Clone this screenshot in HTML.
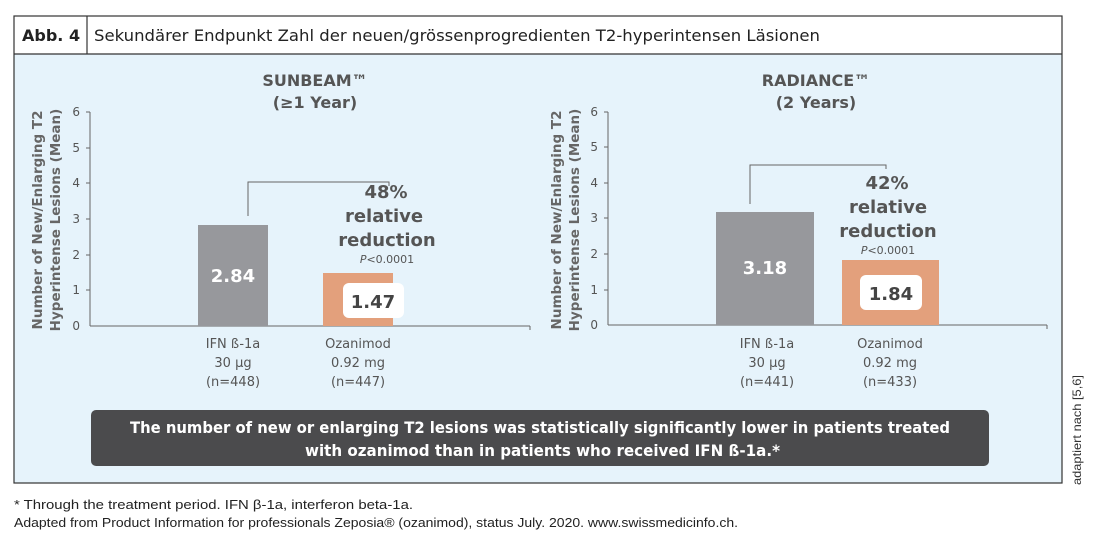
<!DOCTYPE html>
<html><head><meta charset="utf-8"><style>
body{margin:0;background:#fff;width:1100px;height:539px;overflow:hidden;font-family:"DejaVu Sans","Liberation Sans",sans-serif}
</style></head><body>
<svg width="1100" height="539" xmlns="http://www.w3.org/2000/svg" font-family="DejaVu Sans, Liberation Sans, sans-serif">
<rect x="14" y="54" width="1048" height="429" fill="#e6f3fb"/>
<rect x="14" y="16" width="1048" height="467" fill="none" stroke="#333" stroke-width="1.2"/>
<line x1="14" y1="54" x2="1062" y2="54" stroke="#333" stroke-width="1.2"/>
<line x1="87" y1="16" x2="87" y2="54" stroke="#333" stroke-width="1.2"/>
<text x="22" y="41" font-size="16" font-weight="bold" fill="#222">Abb. 4</text>
<text x="94" y="41" font-size="16" fill="#222" textLength="726" lengthAdjust="spacingAndGlyphs">Sekundärer Endpunkt Zahl der neuen/grössenprogredienten T2-hyperintensen Läsionen</text>

<g fill="#555" font-size="12">
<!-- left chart -->
<line x1="90" y1="112" x2="90" y2="326" stroke="#666"/>
<line x1="90" y1="326" x2="530" y2="326" stroke="#666"/>
<line x1="530" y1="326" x2="530" y2="330" stroke="#666"/>
<g stroke="#666"><line x1="86" y1="112" x2="90" y2="112"/><line x1="86" y1="148" x2="90" y2="148"/><line x1="86" y1="183" x2="90" y2="183"/><line x1="86" y1="219" x2="90" y2="219"/><line x1="86" y1="255" x2="90" y2="255"/><line x1="86" y1="290" x2="90" y2="290"/></g>
<g text-anchor="end"><text x="80" y="116">6</text><text x="80" y="152">5</text><text x="80" y="187">4</text><text x="80" y="223">3</text><text x="80" y="259">2</text><text x="80" y="294">1</text><text x="80" y="330">0</text></g>
<text transform="translate(42,220) rotate(-90)" text-anchor="middle" font-size="13.5" font-weight="bold" fill="#666">Number of New/Enlarging T2</text>
<text transform="translate(60,220) rotate(-90)" text-anchor="middle" font-size="13.5" font-weight="bold" fill="#666">Hyperintense Lesions (Mean)</text>
<text x="315" y="86" text-anchor="middle" font-size="16" font-weight="bold" fill="#555">SUNBEAM™</text>
<text x="315" y="108" text-anchor="middle" font-size="16" font-weight="bold" fill="#555">(≥1 Year)</text>
<rect x="198" y="225" width="70" height="101" fill="#97989c"/>
<text x="233" y="282" text-anchor="middle" font-size="18" font-weight="bold" fill="#fff">2.84</text>
<rect x="323" y="273" width="70" height="53" fill="#e3a07c"/>
<rect x="343" y="283" width="61" height="35" rx="6" fill="#fff"/>
<text x="373" y="308" text-anchor="middle" font-size="18" font-weight="bold" fill="#444">1.47</text>
<path d="M248 216 V182 H389 V186" fill="none" stroke="#666"/>
<text x="386" y="198" text-anchor="middle" font-size="18" font-weight="bold">48%</text>
<text x="384" y="222" text-anchor="middle" font-size="18" font-weight="bold">relative</text>
<text x="387" y="246" text-anchor="middle" font-size="18" font-weight="bold">reduction</text>
<text x="387" y="263" text-anchor="middle" font-size="11"><tspan font-style="italic">P</tspan>&lt;0.0001</text>
<g text-anchor="middle" font-size="13"><text x="233" y="348">IFN ß-1a</text><text x="233" y="367">30 µg</text><text x="233" y="386">(n=448)</text>
<text x="358" y="348">Ozanimod</text><text x="358" y="367">0.92 mg</text><text x="358" y="386">(n=447)</text></g>

<!-- right chart -->
<line x1="608" y1="112" x2="608" y2="325" stroke="#666"/>
<line x1="608" y1="325" x2="1047" y2="325" stroke="#666"/>
<line x1="1047" y1="325" x2="1047" y2="329" stroke="#666"/>
<g stroke="#666"><line x1="604" y1="112" x2="608" y2="112"/><line x1="604" y1="147" x2="608" y2="147"/><line x1="604" y1="183" x2="608" y2="183"/><line x1="604" y1="218" x2="608" y2="218"/><line x1="604" y1="254" x2="608" y2="254"/><line x1="604" y1="290" x2="608" y2="290"/></g>
<g text-anchor="end"><text x="598" y="116">6</text><text x="598" y="151">5</text><text x="598" y="187">4</text><text x="598" y="222">3</text><text x="598" y="258">2</text><text x="598" y="294">1</text><text x="598" y="329">0</text></g>
<text transform="translate(561,220) rotate(-90)" text-anchor="middle" font-size="13.5" font-weight="bold" fill="#666">Number of New/Enlarging T2</text>
<text transform="translate(579,220) rotate(-90)" text-anchor="middle" font-size="13.5" font-weight="bold" fill="#666">Hyperintense Lesions (Mean)</text>
<text x="816" y="86" text-anchor="middle" font-size="16" font-weight="bold" fill="#555">RADIANCE™</text>
<text x="816" y="108" text-anchor="middle" font-size="16" font-weight="bold" fill="#555">(2 Years)</text>
<rect x="716" y="212" width="98" height="113" fill="#97989c"/>
<text x="765" y="274" text-anchor="middle" font-size="18" font-weight="bold" fill="#fff">3.18</text>
<rect x="842" y="260" width="97" height="65" fill="#e3a07c"/>
<rect x="860" y="275" width="62" height="35" rx="6" fill="#fff"/>
<text x="891" y="300" text-anchor="middle" font-size="18" font-weight="bold" fill="#444">1.84</text>
<path d="M750 204 V165 H886 V169" fill="none" stroke="#666"/>
<text x="887" y="189" text-anchor="middle" font-size="18" font-weight="bold">42%</text>
<text x="888" y="213" text-anchor="middle" font-size="18" font-weight="bold">relative</text>
<text x="888" y="237" text-anchor="middle" font-size="18" font-weight="bold">reduction</text>
<text x="888" y="254" text-anchor="middle" font-size="11"><tspan font-style="italic">P</tspan>&lt;0.0001</text>
<g text-anchor="middle" font-size="13"><text x="767" y="348">IFN ß-1a</text><text x="767" y="367">30 µg</text><text x="767" y="386">(n=441)</text>
<text x="890" y="348">Ozanimod</text><text x="890" y="367">0.92 mg</text><text x="890" y="386">(n=433)</text></g>
</g>

<rect x="91" y="410" width="898" height="56" rx="5" fill="#4b4b4d"/>
<text x="130" y="433" font-size="16" font-weight="bold" fill="#fff" textLength="820" lengthAdjust="spacingAndGlyphs">The number of new or enlarging T2 lesions was statistically significantly lower in patients treated</text>
<text x="305" y="456" font-size="16" font-weight="bold" fill="#fff" textLength="475" lengthAdjust="spacingAndGlyphs">with ozanimod than in patients who received IFN ß-1a.*</text>

<text x="14" y="509" font-size="13" fill="#222" font-family="Liberation Sans, sans-serif" textLength="399" lengthAdjust="spacingAndGlyphs">* Through the treatment period.     IFN β-1a, interferon beta-1a.</text>
<text x="14" y="527" font-size="13" fill="#222" font-family="Liberation Sans, sans-serif" textLength="724" lengthAdjust="spacingAndGlyphs">Adapted from Product Information for professionals Zeposia® (ozanimod), status July. 2020. www.swissmedicinfo.ch.</text>
<text transform="translate(1081,430) rotate(-90)" text-anchor="middle" font-size="12" fill="#333" font-family="Liberation Sans, sans-serif" textLength="110" lengthAdjust="spacingAndGlyphs">adaptiert nach [5,6]</text>
</svg>
</body></html>
